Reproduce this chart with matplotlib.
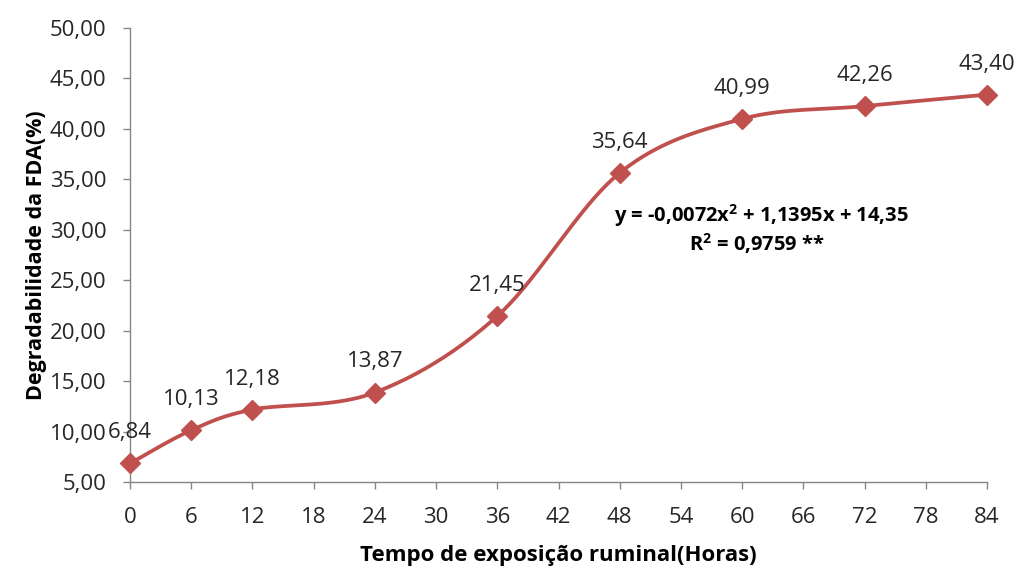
import numpy as np
import matplotlib
matplotlib.use("Agg")
import matplotlib.pyplot as plt

hours = [0, 6, 12, 24, 36, 48, 60, 72, 84]
degr = [6.84, 10.13, 12.18, 13.87, 21.45, 35.64, 40.99, 42.26, 43.40]
x_ticks = list(range(0, 85, 6))
y_ticks = [5, 10, 15, 20, 25, 30, 35, 40, 45, 50]
equation = "y = -0,0072x$^{2}$ + 1,1395x + 14,35"
r2_text = "R$^{2}$ = 0,9759 **"

color = "#C0504D"
plt.rcParams['font.family'] = ['Open Sans', 'DejaVu Sans']
plt.rcParams['mathtext.fontset'] = 'custom'
plt.rcParams['mathtext.rm'] = 'Open Sans:bold'
plt.rcParams['mathtext.it'] = 'Open Sans:bold'
plt.rcParams['mathtext.bf'] = 'Open Sans:bold'

fig = plt.figure(figsize=(10.22, 5.67), dpi=100)
ax = fig.add_axes([0.1272, 0.1499, 0.9658 - 0.1272, 0.9506 - 0.1499])


def smooth(xs, ys, n=40):
    # Catmull-Rom style bezier smoothing (as in spreadsheet "smoothed line")
    P = np.column_stack([np.asarray(xs, float), np.asarray(ys, float)])
    pts = []
    for i in range(len(P) - 1):
        p0 = P[i - 1] if i > 0 else P[i]
        p1 = P[i]
        p2 = P[i + 1]
        p3 = P[i + 2] if i + 2 < len(P) else P[i + 1]
        c1 = p1 + (p2 - p0) / 6.0
        c2 = p2 - (p3 - p1) / 6.0
        t = np.linspace(0, 1, n)[:, None]
        b = ((1 - t) ** 3) * p1 + 3 * ((1 - t) ** 2) * t * c1 + 3 * (1 - t) * t ** 2 * c2 + t ** 3 * p2
        pts.append(b if i == 0 else b[1:])
    pts = np.vstack(pts)
    return pts[:, 0], pts[:, 1]


xmin, xmax, ymin, ymax = 0, 84, 5, 50
W, H = 857.0, 454.0
xn = (np.array(hours) - xmin) / (xmax - xmin) * W
yn = (np.array(degr) - ymin) / (ymax - ymin) * H
sx, sy = smooth(xn, yn)
sx = sx / W * (xmax - xmin) + xmin
sy = sy / H * (ymax - ymin) + ymin

ax.plot(sx, sy, color=color, lw=2.7, clip_on=False, zorder=3, solid_capstyle='round')
ax.plot(hours, degr, linestyle='none', marker='D', markersize=10.5, color=color,
        clip_on=False, zorder=4)

for h, v in zip(hours, degr):
    ax.annotate(f"{v:.2f}".replace('.', ','), (h, v), xytext=(0, 22),
                textcoords='offset points', ha='center', va='center',
                fontsize=16, color='#262626', zorder=5)

ax.set_xlim(xmin, xmax)
ax.set_ylim(ymin, ymax)
ax.set_xticks(x_ticks)
ax.set_xticklabels([str(t) for t in x_ticks])
ax.set_yticks(y_ticks)
ax.set_yticklabels([f"{v:.2f}".replace('.', ',') for v in y_ticks])

for s in ['top', 'right']:
    ax.spines[s].set_visible(False)
for s in ['left', 'bottom']:
    ax.spines[s].set_color('#868686')
    ax.spines[s].set_linewidth(1.0)
ax.tick_params(axis='both', colors='#868686', labelcolor='#262626', labelsize=16,
               length=5, width=1.0, direction='out')
ax.tick_params(axis='x', pad=13)
ax.tick_params(axis='y', pad=12)

ax.set_xlabel("Tempo de exposição ruminal(Horas)", fontsize=16, fontweight='bold',
              color='#000000', labelpad=12)
ax.set_ylabel("Degradabilidade da FDA(%)", fontsize=15.5, fontweight='bold',
              color='#000000', labelpad=2)

ax.text(0.737, 0.586, equation, transform=ax.transAxes, ha='center', va='center',
        fontsize=14.5, fontweight='bold', color='#000000')
ax.text(0.7316, 0.526, r2_text, transform=ax.transAxes, ha='center', va='center',
        fontsize=14.5, fontweight='bold', color='#000000')

fig.savefig("out.png", dpi=100)
